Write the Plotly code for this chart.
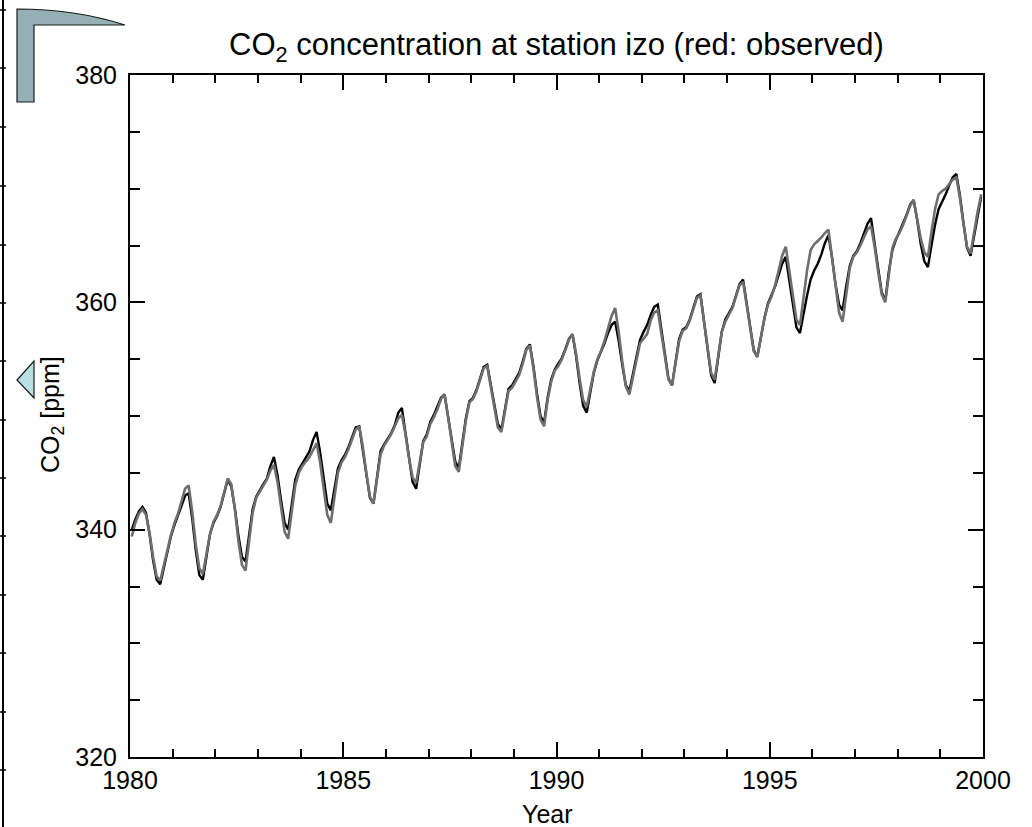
import plotly.graph_objects as go

# Monthly CO2 at Izaña (izo), Jan 1980 – Dec 1999, ppm
years = list(range(1980, 2000))
months = list(range(12))

model_ppm = [
    340.0, 340.9, 341.6, 342.0, 341.5, 339.6, 337.3, 335.6, 335.2, 336.6, 338.2, 339.4,  # 1980
    340.4, 341.2, 342.1, 343.0, 343.2, 341.0, 338.2, 336.0, 335.6, 337.6, 339.6, 340.6,  # 1981
    341.2, 342.0, 343.3, 344.4, 343.8, 341.9, 339.5, 337.6, 337.2, 339.4, 341.8, 342.9,  # 1982
    343.5, 344.0, 344.5, 345.6, 346.4, 344.8, 342.6, 340.6, 340.0, 342.2, 344.4, 345.3,  # 1983
    345.8, 346.3, 346.9, 347.9, 348.6, 346.8, 344.4, 342.3, 341.7, 343.6, 345.4, 346.1,  # 1984
    346.6, 347.3, 348.2, 349.0, 349.1, 347.1, 344.8, 342.8, 342.3, 344.6, 346.9, 347.5,  # 1985
    348.0, 348.5, 349.2, 350.3, 350.7, 348.6, 346.2, 344.2, 343.6, 345.8, 347.8, 348.4,  # 1986
    349.5, 350.1, 350.8, 351.6, 351.9, 350.0, 347.8, 346.0, 345.4, 347.6, 349.8, 351.3,  # 1987
    351.6, 352.3, 353.4, 354.3, 354.5, 352.8, 350.8, 349.3, 348.8, 350.7, 352.4, 352.7,  # 1988
    353.2, 353.8, 354.8, 355.9, 356.3, 354.4, 352.0, 350.0, 349.4, 351.6, 353.2, 354.1,  # 1989
    354.6, 355.1, 355.9, 356.8, 357.2, 355.3, 352.9, 350.9, 350.3, 352.2, 353.8, 354.9,  # 1990
    355.6, 356.4, 357.3, 358.0, 358.3, 356.6, 354.5, 352.7, 352.2, 353.6, 355.0, 356.7,  # 1991
    357.4, 358.0, 358.9, 359.6, 359.8, 357.6, 355.2, 353.3, 352.7, 354.8, 356.8, 357.6,  # 1992
    357.8, 358.5, 359.6, 360.5, 360.7, 358.4, 355.8, 353.6, 352.9, 355.4, 357.4, 358.5,  # 1993
    359.0, 359.6, 360.6, 361.6, 362.0, 360.0, 357.7, 355.8, 355.2, 357.0, 358.6, 359.9,  # 1994
    360.6, 361.4, 362.4, 363.4, 364.0, 362.0, 359.6, 357.8, 357.3, 359.0, 360.6, 362.0,  # 1995
    362.8, 363.4, 364.2, 365.2, 365.9, 364.0, 361.6, 359.8, 359.3, 361.4, 363.2, 364.1,  # 1996
    364.5, 365.2, 366.0, 366.9, 367.4, 365.4, 363.0, 360.9, 360.1, 362.7, 364.6, 365.5,  # 1997
    366.2, 366.9, 367.7, 368.6, 369.0, 367.2, 365.1, 363.6, 363.1, 365.0, 366.8, 368.2,  # 1998
    368.8, 369.5, 370.3, 371.0, 371.3, 369.4, 367.0, 364.8, 364.1, 365.9, 367.8, 369.3,  # 1999
]

observed_ppm = [
    339.4, 340.6, 341.4, 341.8, 341.3, 339.7, 337.6, 335.9, 335.5, 336.9, 338.3, 339.5,  # 1980
    340.6, 341.4, 342.5, 343.6, 343.9, 341.6, 338.7, 336.6, 336.1, 337.9, 339.6, 340.7,  # 1981
    341.3, 342.1, 343.4, 344.5, 344.0, 341.8, 339.0, 336.9, 336.4, 338.9, 341.5, 342.8,  # 1982
    343.3, 343.9, 344.4, 345.2, 345.7, 344.2, 341.9, 339.8, 339.2, 341.6, 343.9, 345.0,  # 1983
    345.6, 346.0, 346.4, 347.0, 347.6, 345.9, 343.6, 341.3, 340.6, 342.9, 345.0, 345.9,  # 1984
    346.4, 347.1, 348.0, 348.8, 349.1, 347.3, 345.0, 342.9, 342.3, 344.5, 346.6, 347.4,  # 1985
    347.9, 348.4, 349.1, 349.8, 350.1, 348.4, 346.3, 344.6, 344.1, 346.0, 347.7, 348.2,  # 1986
    349.3, 349.9, 350.6, 351.5, 351.9, 349.9, 347.6, 345.6, 345.1, 347.3, 349.6, 351.2,  # 1987
    351.5, 352.2, 353.3, 354.2, 354.4, 352.6, 350.6, 349.0, 348.6, 350.5, 352.2, 352.5,  # 1988
    353.0, 353.6, 354.6, 355.8, 356.2, 354.2, 351.7, 349.7, 349.1, 351.4, 353.0, 354.0,  # 1989
    354.4, 355.0, 355.8, 356.7, 357.2, 355.5, 353.3, 351.4, 350.8, 352.4, 353.9, 355.0,  # 1990
    355.7, 356.6, 357.6, 358.8, 359.5, 357.4, 354.8, 352.6, 351.9, 353.4, 354.9, 356.4,  # 1991
    356.8, 357.2, 358.4, 359.1, 359.3, 357.3, 355.0, 353.2, 352.7, 354.6, 356.6, 357.5,  # 1992
    357.7, 358.4, 359.5, 360.4, 360.6, 358.4, 355.9, 353.8, 353.2, 355.5, 357.4, 358.3,  # 1993
    358.9, 359.5, 360.5, 361.5, 361.8, 359.9, 357.6, 355.7, 355.2, 356.9, 358.6, 359.8,  # 1994
    360.5, 361.5, 362.7, 364.1, 364.9, 362.8, 360.3, 358.5, 358.0, 360.5, 362.8, 364.6,  # 1995
    365.1, 365.4, 365.7, 366.1, 366.4, 364.0, 361.3, 359.1, 358.3, 360.8, 363.0, 364.0,  # 1996
    364.4, 365.0, 365.7, 366.4, 366.7, 364.9, 362.7, 360.7, 360.0, 362.5, 364.8, 365.6,  # 1997
    366.1, 366.8, 367.6, 368.5, 369.0, 367.4, 365.6, 364.4, 364.0, 366.2, 368.2, 369.5,  # 1998
    369.8, 370.0, 370.4, 370.8, 371.0, 369.2, 366.9, 364.9, 364.3, 366.2, 368.0, 369.5,  # 1999
]

x_ticks = [1980, 1985, 1990, 1995, 2000]
y_ticks = [320, 340, 360, 380]

# decimal year at mid-month
t = [y + (m + 0.5) / 12 for y in years for m in months]

W, H = 1032, 827
L, R, T, B = 130, 983, 75, 757
FONT = "Liberation Sans, Arial, Helvetica, sans-serif"


def px(x):
    return (x - L) / (R - L)


def py(y):
    return (B - y) / (B - T)


fig = go.Figure()
fig.add_trace(go.Scatter(x=t, y=model_ppm, mode="lines", name="model",
                         line=dict(color="#000000", width=2.4)))
fig.add_trace(go.Scatter(x=t, y=observed_ppm, mode="lines", name="observed",
                         line=dict(color="#6e6e6e", width=2.6)))

axis_common = dict(
    showline=True, linecolor="black", linewidth=2, mirror="allticks",
    ticks="inside", tickwidth=2, tickcolor="black",
    showgrid=False, zeroline=False,
    tickfont=dict(family=FONT, size=25, color="black"),
)

fig.update_xaxes(range=[1980, 2000], tickvals=x_ticks, ticklen=15,
                 minor=dict(dtick=1, ticklen=8, tickwidth=2, ticks="inside",
                            tickcolor="black", showgrid=False),
                 **axis_common)
fig.update_yaxes(range=[320, 380], tickvals=y_ticks, ticklen=15,
                 ticklabelstandoff=6,
                 minor=dict(dtick=5, ticklen=10, tickwidth=2, ticks="inside",
                            tickcolor="black", showgrid=False),
                 **axis_common)

annotations = [
    dict(text="CO<sub>2</sub> concentration at station izo (red: observed)",
         x=px(556), y=py(47), xref="paper", yref="paper", showarrow=False,
         xanchor="center", yanchor="middle",
         font=dict(family=FONT, size=31, color="black")),
    dict(text="Year", x=px(547), y=py(814), xref="paper", yref="paper",
         showarrow=False, xanchor="center", yanchor="middle",
         font=dict(family=FONT, size=25, color="black")),
    dict(text="CO<sub>2</sub> [ppm]", x=px(52), y=py(415), xref="paper",
         yref="paper", showarrow=False, textangle=-90,
         xanchor="center", yanchor="middle",
         font=dict(family=FONT, size=25, color="black")),
]

# slide-frame ornaments on the left margin
shapes = []
shapes.append(dict(type="line", xref="paper", yref="paper",
                   x0=px(3), x1=px(3), y0=py(0), y1=py(827),
                   line=dict(color="black", width=2)))
for yy in [10, 68, 127, 186, 245, 303, 361, 420, 478, 536, 595, 653, 712, 770]:
    shapes.append(dict(type="line", xref="paper", yref="paper",
                       x0=px(0), x1=px(6), y0=py(yy), y1=py(yy),
                       line=dict(color="black", width=1.5)))

corner = (f"M {px(17)},{py(9)} Q {px(75)},{py(9)} {px(125)},{py(25)} "
          f"L {px(34)},{py(25)} L {px(34)},{py(102)} L {px(17)},{py(102)} Z")
shapes.append(dict(type="path", xref="paper", yref="paper", path=corner,
                   fillcolor="#94b0b4", line=dict(color="#1a1a1a", width=1.2)))

tri = (f"M {px(17)},{py(380)} L {px(34)},{py(361)} L {px(34)},{py(398)} Z")
shapes.append(dict(type="path", xref="paper", yref="paper", path=tri,
                   fillcolor="#b8dfe1", line=dict(color="#1a1a1a", width=1.2)))

fig.update_layout(
    width=W, height=H,
    margin=dict(l=L, r=W - R, t=T, b=H - B, pad=0),
    paper_bgcolor="white", plot_bgcolor="white",
    showlegend=False,
    annotations=annotations,
    shapes=shapes,
)

fig.write_html("out.html")
